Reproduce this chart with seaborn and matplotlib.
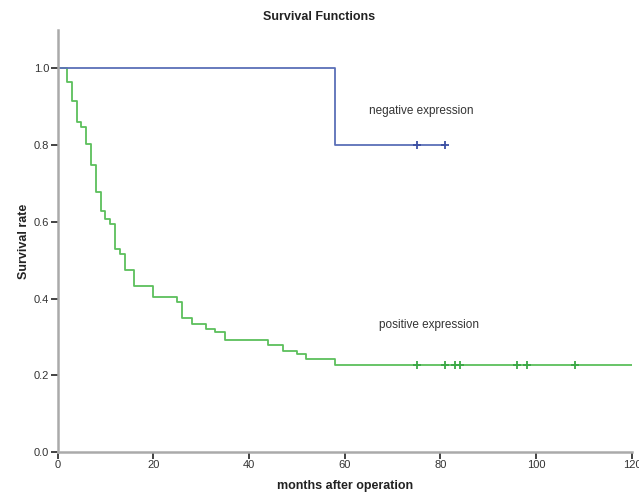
import numpy as np
import matplotlib
matplotlib.use("Agg")
import matplotlib.pyplot as plt
import seaborn as sns
import pandas as pd

# positive expression: step times (months) and survival after each drop
pos_time = [0, 2, 3, 4, 5, 6, 7, 8, 9, 10, 11, 12, 13, 14, 16, 20, 25, 26, 28, 31, 33, 35, 44, 47, 50, 52, 58, 120]
pos_surv = [1.0, 0.965, 0.916, 0.861, 0.847, 0.804, 0.749, 0.678, 0.628, 0.608, 0.594, 0.530, 0.517, 0.475,
            0.432, 0.404, 0.391, 0.349, 0.333, 0.320, 0.312, 0.291, 0.278, 0.264, 0.256, 0.243, 0.228, 0.228]
pos_censor = [75, 81, 83, 84, 96, 98, 108]

# negative expression
neg_time = [0, 58, 81]
neg_surv = [1.0, 0.8, 0.8]
neg_censor = [75, 81]

pos_color = "#5cbf5c"
neg_color = "#5b6fb8"

sns.set_style("white")
plt.rcParams['font.family'] = ['Liberation Sans', 'DejaVu Sans']

fig = plt.figure(figsize=(6.39, 4.93), dpi=100)
ax = fig.add_axes([0.090, 0.083, 0.899, 0.856])

df_pos = pd.DataFrame({"t": pos_time, "s": pos_surv})
df_neg = pd.DataFrame({"t": neg_time, "s": neg_surv})
sns.lineplot(data=df_pos, x="t", y="s", drawstyle="steps-post", color=pos_color, lw=1.3, ax=ax)
sns.lineplot(data=df_neg, x="t", y="s", drawstyle="steps-post", color=neg_color, lw=1.3, ax=ax)

ax.scatter(pos_censor, [pos_surv[-1]] * len(pos_censor), marker="+", s=40, color="#3aa845", lw=1.3, zorder=3)
ax.scatter(neg_censor, [neg_surv[-1]] * len(neg_censor), marker="+", s=40, color="#3b4fa3", lw=1.3, zorder=3)

ax.text(76, 0.89, "negative expression", fontsize=8.5, color="#333333", ha="center", va="center")
ax.text(77.5, 0.332, "positive expression", fontsize=8.5, color="#333333", ha="center", va="center")

ax.set_xlim(0, 120)
ax.set_ylim(0, 1.1)
ax.set_xticks(np.arange(0, 121, 20))
ax.set_yticks(np.arange(0, 1.01, 0.2))
ax.set_yticklabels(["0.0", "0.2", "0.4", "0.6", "0.8", "1.0"])
ax.tick_params(axis="both", direction="out", length=5, width=1.2, color="#222222",
               labelsize=8, labelcolor="#333333", pad=1, left=True, bottom=True)

for side in ["top", "right"]:
    ax.spines[side].set_visible(False)
for side in ["left", "bottom"]:
    ax.spines[side].set_color("#aaaaaa")
    ax.spines[side].set_linewidth(1.8)

ax.set_xlabel("months after operation", fontsize=9, fontweight="bold", color="#222222", labelpad=7)
ax.set_ylabel("Survival rate", fontsize=9, fontweight="bold", color="#222222", labelpad=3)
fig.suptitle("Survival Functions", fontsize=9, fontweight="bold", color="#222222", x=0.5, y=0.977)

fig.savefig("out.png", dpi=100)
